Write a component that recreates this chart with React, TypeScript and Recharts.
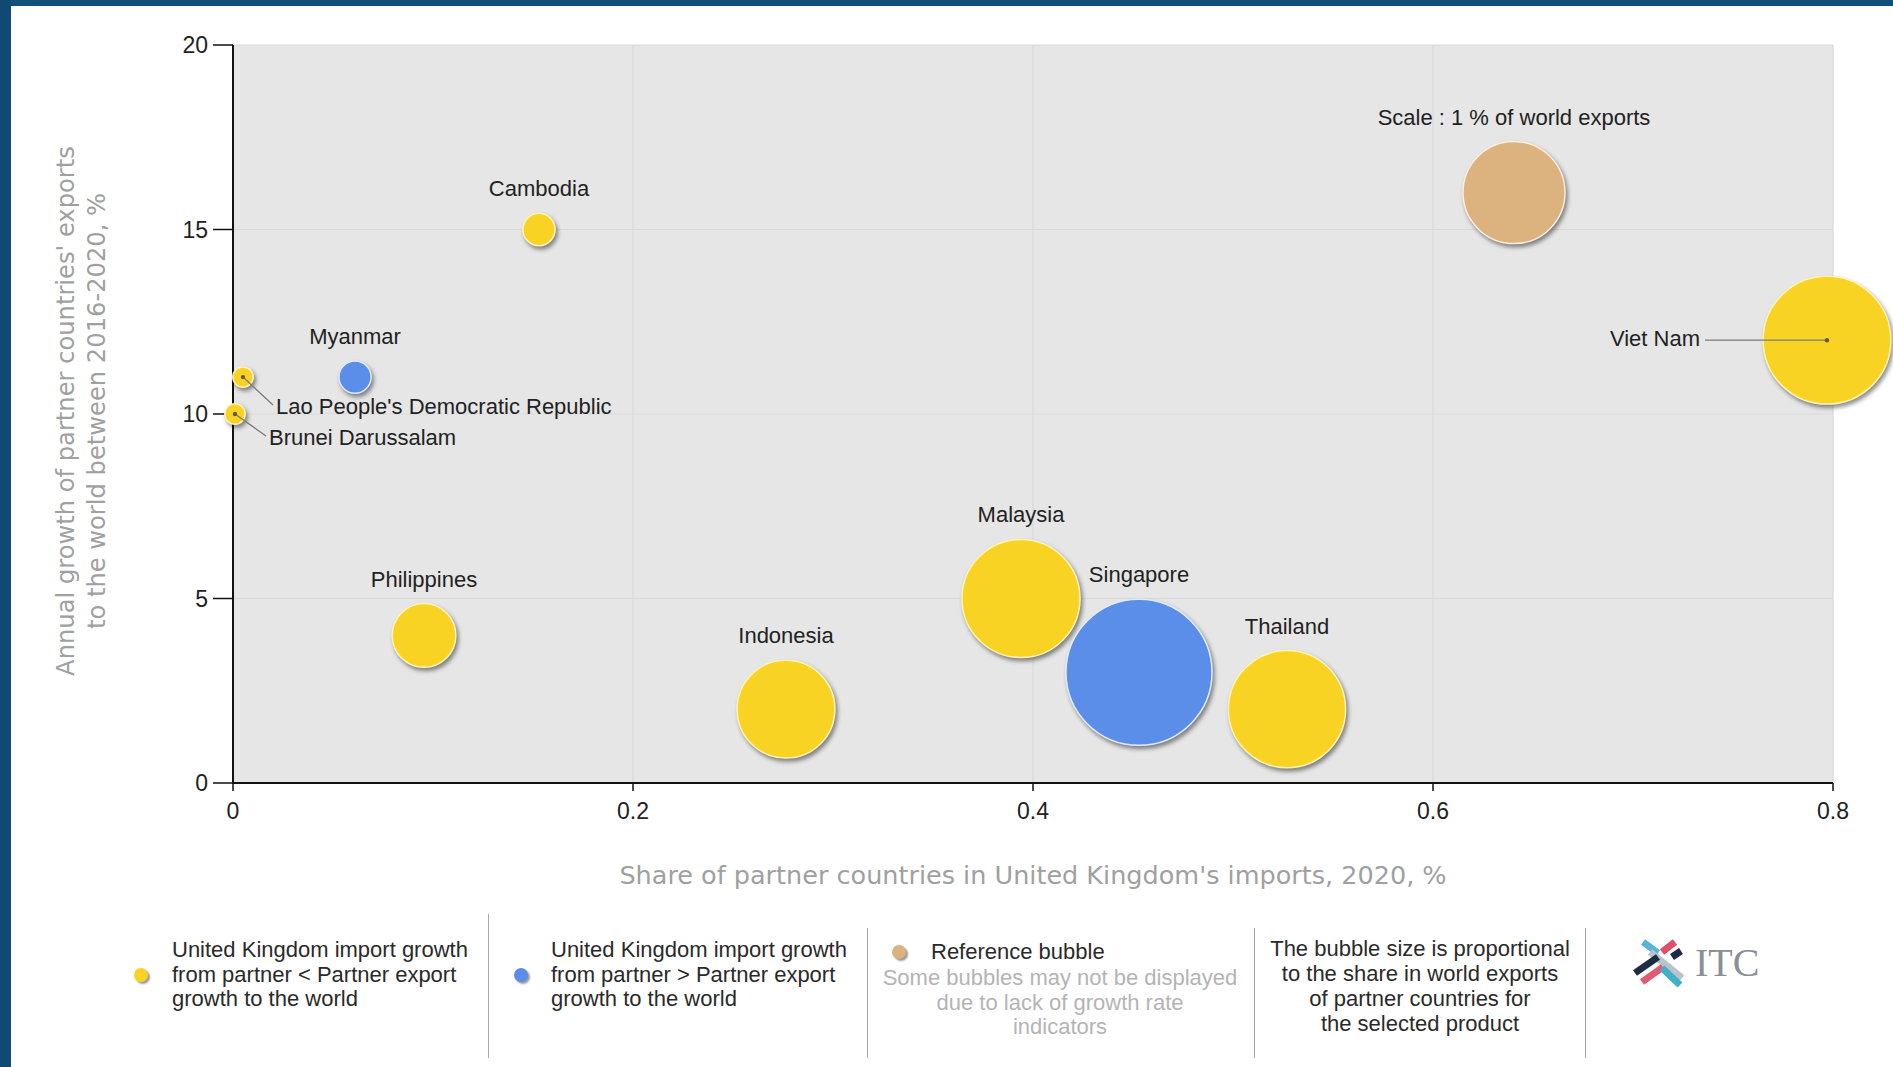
import React from "react";
import { ScatterChart, Scatter, XAxis, YAxis, ZAxis, CartesianGrid } from "recharts";

// partner countries (ASEAN) – UK imports
const countries = [
  "Cambodia",
  "Myanmar",
  "Lao People's Democratic Republic",
  "Brunei Darussalam",
  "Philippines",
  "Indonesia",
  "Malaysia",
  "Singapore",
  "Thailand",
  "Viet Nam",
];
// share of partner in UK imports, 2020, %
const importShare = [0.153, 0.061, 0.005, 0.001, 0.0955, 0.2765, 0.394, 0.453, 0.527, 0.797];
// annual growth of partner exports to world 2016-2020, %
const exportGrowth = [15, 11, 11, 10, 4, 2, 5, 3, 2, 12];
// share in world exports, % (bubble size)
const worldShare = [0.1, 0.1, 0.04, 0.04, 0.39, 0.92, 1.34, 2.05, 1.32, 1.57];
// true = UK import growth from partner > partner export growth (blue)
const importsFaster = [false, true, false, false, false, false, false, true, false, false];

const refLabel = "Scale : 1 % of world exports";
const refX = 0.6405;
const refY = 16;
const refZ = 1;

const xTicks = [0, 0.2, 0.4, 0.6, 0.8];
const yTicks = [0, 5, 10, 15, 20];

const W = 1893;
const H = 1067;
const REF_R = 51; // px radius of the 1% reference bubble

const YELLOW = "#f9d324";
const BLUE = "#5b8ee8";
const TAN = "#dcb27f";
const SANS = "'Liberation Sans', Arial, sans-serif";
const VERD = "'DejaVu Sans', Verdana, sans-serif";

const points = countries.map((name, i) => ({
  name,
  x: importShare[i],
  y: exportGrowth[i],
  z: worldShare[i],
  faster: importsFaster[i],
}));
const yellowData = points.filter((p) => !p.faster);
const blueData = points.filter((p) => p.faster);
const refData = [{ name: refLabel, x: refX, y: refY, z: refZ, faster: false }];
const labelData = [...points, ...refData];

function radiusOf(props: any) {
  if (props.size != null) return Math.sqrt(Math.max(props.size, 0) / Math.PI);
  return (props.width || 0) / 2;
}

function makeBubble(fill: string, stroke: string) {
  return (props: any) => {
    const { cx, cy } = props;
    const r = radiusOf(props);
    return (
      <circle
        cx={cx}
        cy={cy}
        r={r}
        fill={fill}
        stroke={stroke}
        strokeWidth={1.5}
        style={{ filter: "drop-shadow(2px 3px 2px rgba(0,0,0,0.45))" }}
      />
    );
  };
}

// labels drawn with leader lines instead of above the bubble
const leader: Record<string, [number, number]> = {
  "Lao People's Democratic Republic": [30, 28],
  "Brunei Darussalam": [31, 22],
  "Viet Nam": [-122, 0],
};

function LabelShape(props: any) {
  const { cx, cy, payload } = props;
  const r = radiusOf(props);
  const lead = leader[payload.name];
  const txt = { fontFamily: SANS, fontSize: 22, fill: "#222" };
  if (lead) {
    const [dx, dy] = lead;
    const ex = cx + dx;
    const ey = cy + dy;
    const left = dx < 0;
    return (
      <g>
        <line x1={cx} y1={cy} x2={ex} y2={ey} stroke="#7a7a7a" strokeWidth={1.3} />
        <circle cx={cx} cy={cy} r={2.2} fill="#6a5a3a" />
        <text
          x={left ? ex - 5 : ex + 3}
          y={left ? ey : ey + 3}
          textAnchor={left ? "end" : "start"}
          dominantBaseline="middle"
          {...txt}
        >
          {payload.name}
        </text>
      </g>
    );
  }
  return (
    <text x={cx} y={cy - r - 17} textAnchor="middle" {...txt}>
      {payload.name}
    </text>
  );
}

function Dot({ left, top, color }: { left: number; top: number; color: string }) {
  return (
    <div
      style={{
        position: "absolute",
        left: left - 7,
        top: top - 7,
        width: 14,
        height: 14,
        borderRadius: "50%",
        background: color,
        boxShadow: "2px 2px 2px rgba(0,0,0,0.4)",
      }}
    />
  );
}

function Sep({ x, y1, y2 }: { x: number; y1: number; y2: number }) {
  return <div style={{ position: "absolute", left: x, top: y1, width: 1, height: y2 - y1, background: "#a8a8a8" }} />;
}

function ItcLogo() {
  // decorative mark, page coords offset by (1628, 934)
  const bars: [number, number, number, number, string][] = [
    [15, 8, 30, 19, "#5ab3d8"],
    [34, 18, 47, 8, "#df4f68"],
    [44, 23, 53, 17, "#1d2c44"],
    [22, 18, 54, 44, "#b9c3cb"],
    [7, 39, 30, 23, "#1d2c44"],
    [14, 48, 35, 33, "#e25a72"],
    [34, 34, 52, 51, "#3fb0c6"],
  ];
  return (
    <svg style={{ position: "absolute", left: 1628, top: 934 }} width={140} height={60}>
      {bars.map(([x1, y1, x2, y2, c], i) => (
        <line key={i} x1={x1} y1={y1} x2={x2} y2={y2} stroke={c} strokeWidth={7} />
      ))}
      <text x={67} y={42} fontFamily="'Liberation Serif', 'DejaVu Serif', serif" fontSize={40} fill="#8a8f96">
        ITC
      </text>
    </svg>
  );
}

const legendText: React.CSSProperties = {
  position: "absolute",
  fontFamily: SANS,
  fontSize: 22,
  lineHeight: "24.5px",
  color: "#2a2a2a",
  whiteSpace: "nowrap",
};

export default function App() {
  return (
    <div
      style={{
        position: "fixed",
        left: 0,
        top: 0,
        width: W,
        height: H,
        background: "#ffffff",
        overflow: "hidden",
      }}
    >
      <div style={{ position: "absolute", left: 0, top: 0 }}>
        <ScatterChart width={W} height={H} margin={{ top: 45, right: 60, bottom: 224, left: 173 }}>
          <CartesianGrid
            fill="#e6e6e6"
            stroke="#d9d9d9"
            strokeWidth={1.2}
            horizontalValues={yTicks}
            verticalValues={xTicks}
          />
          <XAxis
            type="number"
            dataKey="x"
            domain={[0, 0.8]}
            ticks={xTicks}
            interval={0}
            height={60}
            tickSize={8}
            tickMargin={12}
            axisLine={{ stroke: "#111", strokeWidth: 2 }}
            tickLine={{ stroke: "#111", strokeWidth: 1.5 }}
            tick={{ fill: "#222", fontSize: 23, fontFamily: SANS }}
          />
          <YAxis
            type="number"
            dataKey="y"
            domain={[0, 20]}
            ticks={yTicks}
            interval={0}
            width={60}
            tickSize={20}
            tickMargin={5}
            axisLine={{ stroke: "#111", strokeWidth: 2 }}
            tickLine={{ stroke: "#111", strokeWidth: 1.5 }}
            tick={{ fill: "#222", fontSize: 23, fontFamily: SANS }}
          />
          <ZAxis type="number" dataKey="z" domain={[0, 2.5]} range={[0, 2.5 * Math.PI * REF_R * REF_R]} />
          <Scatter data={yellowData} shape={makeBubble(YELLOW, "#fff4b8")} isAnimationActive={false} />
          <Scatter data={blueData} shape={makeBubble(BLUE, "#e2ecff")} isAnimationActive={false} />
          <Scatter data={refData} shape={makeBubble(TAN, "#fbeedd")} isAnimationActive={false} />
          <Scatter data={labelData} shape={LabelShape} isAnimationActive={false} />
        </ScatterChart>
      </div>

      {/* dark frame */}
      <div style={{ position: "absolute", left: 0, top: 0, width: W, height: 6, background: "#11507b" }} />
      <div style={{ position: "absolute", left: 0, top: 0, width: 11, height: H, background: "#0f4a73" }} />

      {/* y axis title */}
      <div
        style={{
          position: "absolute",
          left: 82 - 320,
          top: 411 - 31,
          width: 640,
          height: 62,
          lineHeight: "31px",
          textAlign: "center",
          fontFamily: VERD,
          fontSize: 24.2,
          color: "#a0a0a0",
          transform: "rotate(-90deg)",
          whiteSpace: "nowrap",
        }}
      >
        Annual growth of partner countries' exports
        <br />
        to the world between 2016-2020, %
      </div>

      {/* x axis title */}
      <div
        style={{
          position: "absolute",
          left: 1033 - 500,
          top: 875 - 15,
          width: 1000,
          lineHeight: "30px",
          textAlign: "center",
          fontFamily: VERD,
          fontSize: 25.5,
          color: "#a0a0a0",
          whiteSpace: "nowrap",
        }}
      >
        Share of partner countries in United Kingdom's imports, 2020, %
      </div>

      {/* legend */}
      <Dot left={141} top={975} color={YELLOW} />
      <div style={{ ...legendText, left: 172, top: 938 }}>
        United Kingdom import growth
        <br />
        from partner &lt; Partner export
        <br />
        growth to the world
      </div>
      <Sep x={488} y1={914} y2={1058} />
      <Dot left={521} top={975} color={BLUE} />
      <div style={{ ...legendText, left: 551, top: 938 }}>
        United Kingdom import growth
        <br />
        from partner &gt; Partner export
        <br />
        growth to the world
      </div>
      <Sep x={867} y1={928} y2={1058} />
      <Dot left={899} top={952} color={TAN} />
      <div style={{ ...legendText, left: 931, top: 940 }}>Reference bubble</div>
      <div style={{ ...legendText, left: 1060 - 200, top: 966, width: 400, textAlign: "center", color: "#b4b4b4" }}>
        Some bubbles may not be displayed
        <br />
        due to lack of growth rate
        <br />
        indicators
      </div>
      <Sep x={1254} y1={928} y2={1058} />
      <div style={{ ...legendText, left: 1420 - 180, top: 936, width: 360, textAlign: "center", lineHeight: "25px" }}>
        The bubble size is proportional
        <br />
        to the share in world exports
        <br />
        of partner countries for
        <br />
        the selected product
      </div>
      <Sep x={1585} y1={928} y2={1058} />
      <ItcLogo />
    </div>
  );
}
